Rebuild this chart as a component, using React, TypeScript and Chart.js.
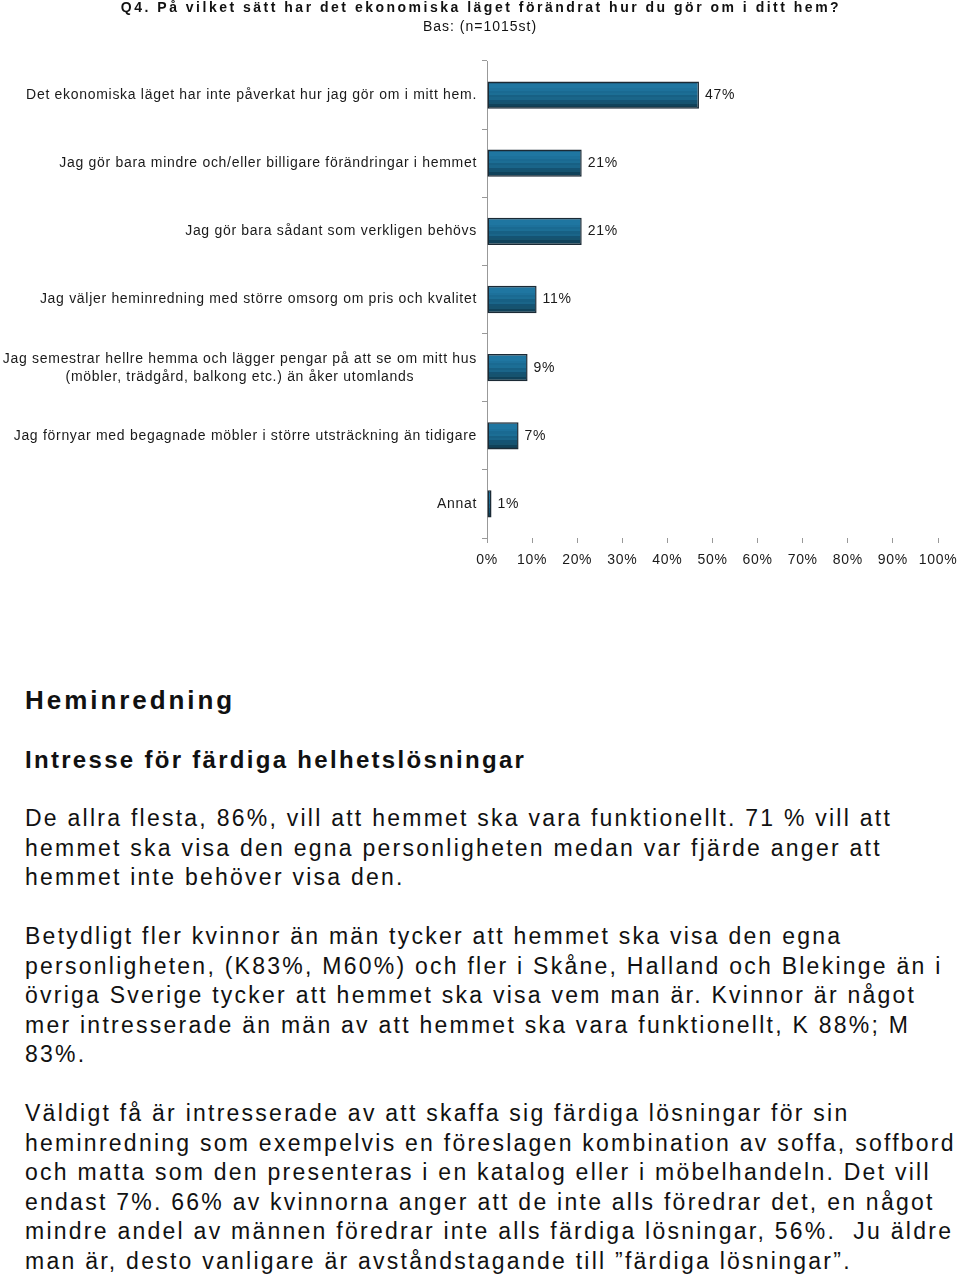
import React, { useEffect, useRef } from "react";
import { Chart, registerables } from "chart.js";

Chart.register(...registerables);

const titleText = "Q4. På vilket sätt har det ekonomiska läget förändrat hur du gör om i ditt hem?";
const subtitleText = "Bas: (n=1015st)";

const categories: (string | string[])[] = [
  "Det ekonomiska läget har inte påverkat hur jag gör om i mitt hem.",
  "Jag gör bara mindre och/eller billigare förändringar i hemmet",
  "Jag gör bara sådant som verkligen behövs",
  "Jag väljer heminredning med större omsorg om pris och kvalitet",
  [
    "Jag semestrar hellre hemma och lägger pengar på att se om mitt hus",
    "(möbler, trädgård, balkong etc.) än åker utomlands",
  ],
  "Jag förnyar med begagnade möbler i större utsträckning än tidigare",
  "Annat",
];

const values = [47, 21, 21, 11, 9, 7, 1];

const stripeColors = [
  "#1d6286",
  "#1f76a1",
  "#1f76a1",
  "#1d719b",
  "#1a6a92",
  "#1c6e95",
  "#176084",
  "#1a6589",
  "#145373",
  "#16536f",
  "#10425a",
  "#123c50",
];

const heading1 = "Heminredning";
const heading2 = "Intresse för färdiga helhetslösningar";

const paragraphLines = [
  "De allra flesta, 86%, vill att hemmet ska vara funktionellt. 71 % vill att",
  "hemmet ska visa den egna personligheten medan var fjärde anger att",
  "hemmet inte behöver visa den.",
  "",
  "Betydligt fler kvinnor än män tycker att hemmet ska visa den egna",
  "personligheten, (K83%, M60%) och fler i Skåne, Halland och Blekinge än i",
  "övriga Sverige tycker att hemmet ska visa vem man är. Kvinnor är något",
  "mer intresserade än män av att hemmet ska vara funktionellt, K 88%; M",
  "83%.",
  "",
  "Väldigt få är intresserade av att skaffa sig färdiga lösningar för sin",
  "heminredning som exempelvis en föreslagen kombination av soffa, soffbord",
  "och matta som den presenteras i en katalog eller i möbelhandeln. Det vill",
  "endast 7%. 66% av kvinnorna anger att de inte alls föredrar det, en något",
  "mindre andel av männen föredrar inte alls färdiga lösningar, 56%.  Ju äldre",
  "man är, desto vanligare är avståndstagande till ”färdiga lösningar”.",
];

const FONT = '"Liberation Sans", Arial, Helvetica, sans-serif';

const labelPlugin = {
  id: "customLabels",
  beforeDraw(chart: any) {
    (chart.ctx as any).letterSpacing = "0.7px";
  },
  afterDraw(chart: any) {
    const ctx = chart.ctx as CanvasRenderingContext2D;
    const ys = chart.scales.y;
    ctx.save();
    // title and subtitle
    ctx.fillStyle = "#111";
    ctx.textBaseline = "middle";
    ctx.textAlign = "center";
    (ctx as any).letterSpacing = "2.5px";
    ctx.font = `bold 14px ${FONT}`;
    ctx.fillText(titleText, chart.width / 2 + 1, 8);
    (ctx as any).letterSpacing = "1px";
    ctx.font = `14px ${FONT}`;
    ctx.fillText(subtitleText, chart.width / 2, 27);

    (ctx as any).letterSpacing = "0.7px";
    ctx.font = `14px ${FONT}`;
    ctx.fillStyle = "#1a1a1a";
    const right = chart.chartArea.left - 10;
    categories.forEach((lab, i) => {
      const cy = ys.getPixelForValue(i);
      const lines = Array.isArray(lab) ? lab : [lab];
      const widths = lines.map((l) => ctx.measureText(l).width);
      const maxW = Math.max(...widths);
      const center = right - maxW / 2;
      ctx.textAlign = "center";
      lines.forEach((l, j) => {
        ctx.fillText(l, center, cy + (j - (lines.length - 1) / 2) * 18);
      });
    });
    const meta = chart.getDatasetMeta(0);
    ctx.textAlign = "left";
    meta.data.forEach((bar: any, i: number) => {
      const p = bar.getProps(["x", "y"], true);
      ctx.fillText(values[i] + "%", p.x + 6, p.y);
    });
    ctx.restore();
  },
};

function ChartBlock() {
  const ref = useRef<HTMLCanvasElement | null>(null);
  useEffect(() => {
    if (!ref.current) return;
    const chart = new Chart(ref.current, {
      type: "bar",
      data: {
        labels: categories.map((c) => (Array.isArray(c) ? c.join(" ") : c)),
        datasets: [
          {
            data: values,
            barPercentage: 0.4,
            categoryPercentage: 1,
            borderColor: "#1b2a35",
            borderWidth: 1.5,
            borderSkipped: false,
            backgroundColor: (c: any) => {
              const ch = c.chart;
              const ys = ch.scales && ch.scales.y;
              if (!ys || c.dataIndex === undefined) return stripeColors[1];
              const cy = ys.getPixelForValue(c.dataIndex);
              const band = Math.abs(ys.getPixelForValue(1) - ys.getPixelForValue(0));
              const h = (band * 0.4) / 2;
              if (!isFinite(cy) || !isFinite(h) || h <= 0) return stripeColors[1];
              const g = ch.ctx.createLinearGradient(0, cy - h, 0, cy + h);
              const n = stripeColors.length;
              stripeColors.forEach((col, k) => {
                g.addColorStop(k / n, col);
                g.addColorStop((k + 1) / n, col);
              });
              return g;
            },
          },
        ],
      },
      options: {
        indexAxis: "y",
        responsive: false,
        animation: false,
        devicePixelRatio: 1,
        layout: { padding: { left: 0, right: 22, top: 61, bottom: 0 } },
        plugins: {
          legend: { display: false },
          tooltip: { enabled: false },
          title: { display: false },
        },
        scales: {
          x: {
            min: 0,
            max: 100,
            ticks: {
              stepSize: 10,
              callback: (v: any) => v + "%",
              color: "#1a1a1a",
              font: { family: FONT, size: 14 },
              padding: 9,
              maxRotation: 0,
              autoSkip: false,
            },
            grid: {
              display: true,
              drawOnChartArea: false,
              tickLength: 5,
              color: "#999",
            },
            border: { display: false },
            afterFit: (s: any) => {
              s.height = 62;
              s.paddingLeft = 0;
              s.paddingRight = 0;
            },
          },
          y: {
            ticks: { display: false },
            grid: {
              display: true,
              drawOnChartArea: false,
              tickLength: 5,
              color: "#999",
              offset: true,
            },
            border: { display: true, color: "#999", width: 1 },
            afterFit: (s: any) => {
              s.width = 487;
            },
          },
        },
      },
      plugins: [labelPlugin],
    } as any);
    return () => chart.destroy();
  }, []);
  return <canvas ref={ref} width={960} height={600} style={{ display: "block" }} />;
}

export default function App() {
  useEffect(() => {
    document.body.style.margin = "0";
  }, []);
  const textColor = "#111";
  return (
    <div style={{ position: "relative", width: 960, height: 1277, background: "#fff", fontFamily: FONT, color: textColor }}>
      <ChartBlock />
      <div
        style={{
          position: "absolute",
          left: 25,
          top: 685,
          fontSize: 26,
          fontWeight: "bold",
          lineHeight: "30px",
          letterSpacing: "2.95px",
          whiteSpace: "nowrap",
        }}
      >
        {heading1}
      </div>
      <div
        style={{
          position: "absolute",
          left: 25,
          top: 745,
          fontSize: 24,
          fontWeight: "bold",
          lineHeight: "30px",
          letterSpacing: "2.3px",
          whiteSpace: "nowrap",
        }}
      >
        {heading2}
      </div>
      <div
        style={{
          position: "absolute",
          left: 25,
          top: 804,
          fontSize: 23,
          lineHeight: "29.5px",
          letterSpacing: "2.25px",
          whiteSpace: "pre",
        }}
      >
        {paragraphLines.map((l, i) => (
          <div key={i} style={{ height: 29.5 }}>
            {l}
          </div>
        ))}
      </div>
    </div>
  );
}
